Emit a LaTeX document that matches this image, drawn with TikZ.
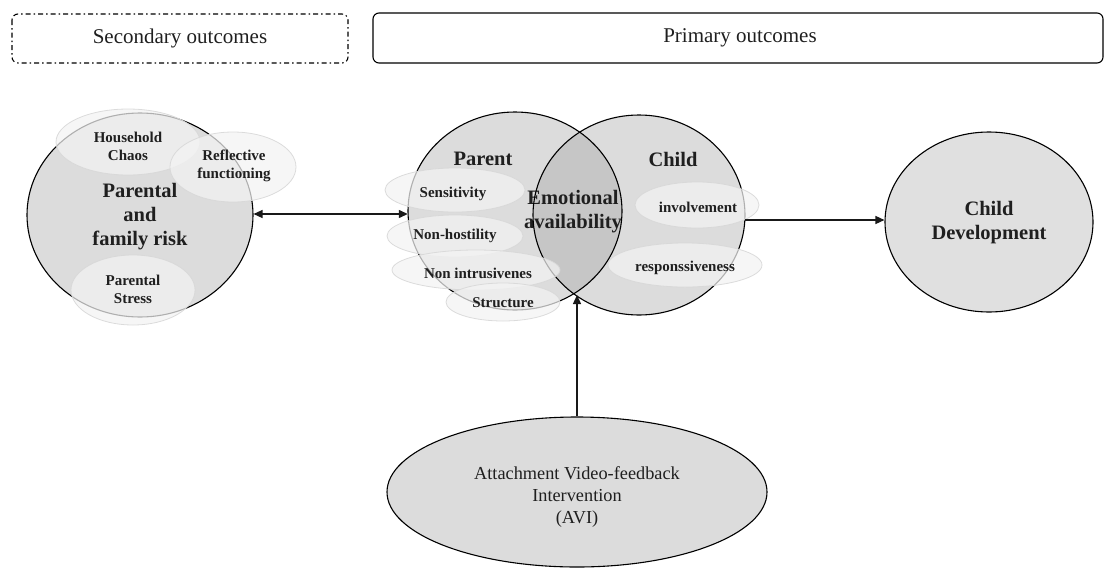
\documentclass[tikz,border=0pt]{standalone}
\usepackage{fontspec}
\setmainfont{Liberation Serif}
\usetikzlibrary{shapes.geometric,arrows.meta}
\definecolor{circfill}{HTML}{DCDCDC}
\definecolor{devfill}{HTML}{E0E0E0}
\definecolor{interfill}{HTML}{C6C6C6}
\definecolor{subfill}{HTML}{F3F3F3}
\definecolor{subline}{HTML}{D8D8D8}
\tikzset{
  hdrbox/.style={draw, line width=1.1pt, rounded corners=6pt},
  bigcirc/.style={ellipse, draw, line width=1.1pt, fill=circfill, inner sep=0pt},
  subell/.style={ellipse, draw=subline, line width=0.8pt, fill=subfill, fill opacity=0.72, draw opacity=0.9, inner sep=0pt},
  bigtxt/.style={font=\fontsize{20.5}{24}\selectfont\bfseries, align=center, text=black!88},
  smalltxt/.style={font=\fontsize{15}{18}\selectfont\bfseries, align=center, text=black!88},
  hdrtxt/.style={font=\fontsize{21}{25}\selectfont, text=black!88},
  conn/.style={line width=1.3pt, black!90},
  tip/.style={-{Triangle[length=9pt,width=8pt]}},
}
\begin{document}
\begin{tikzpicture}[x=1pt,y=-1pt]
\useasboundingbox (0,0) rectangle (1105,568);
% header boxes
\draw[hdrbox, dash pattern=on 5pt off 3pt on 1.5pt off 3pt] (12,14) rectangle (348,63);
\node[hdrtxt] (sec) at (180,38) {Secondary outcomes};
\draw[hdrbox] (373,13) rectangle (1103,63);
\node[hdrtxt] (prim) at (740,38) {Primary outcomes};

% Parental and family risk
\node[bigcirc, minimum width=226pt, minimum height=204pt] (risk) at (140,215) {};
\node[bigtxt] (risktxt) at (140,217) {Parental\\and\\family risk};
\node[subell, minimum width=144pt, minimum height=66pt] (hc) at (128,142) {};
\node[smalltxt] (hct) at (128,146) {Household\\Chaos};
\node[subell, minimum width=126pt, minimum height=70pt] (rf) at (233,167) {};
\node[smalltxt] (rft) at (234,166) {Reflective\\functioning};
\node[subell, minimum width=124pt, minimum height=70pt] (ps) at (133,290) {};
\node[smalltxt] (pst) at (133,289) {Parental\\Stress};

% Parent / Child Venn
\node[ellipse, fill=circfill, minimum width=214pt, minimum height=198pt, inner sep=0pt] (parent) at (515,211) {};
\node[ellipse, fill=circfill, minimum width=212pt, minimum height=200pt, inner sep=0pt] (child) at (639,215) {};
\begin{scope}
  \clip (515,211) ellipse [x radius=107pt, y radius=99pt];
  \fill[interfill] (639,215) ellipse [x radius=106pt, y radius=100pt];
\end{scope}
\node[bigtxt] (emo) at (573,212) {Emotional\\availability};
\draw[line width=1.1pt] (515,211) ellipse [x radius=107pt, y radius=99pt];
\draw[line width=1.1pt] (639,215) ellipse [x radius=106pt, y radius=100pt];
\node[bigtxt] (parenttxt) at (483,159) {Parent};
\node[bigtxt] (childtxt) at (673,159) {Child};

\node[subell, minimum width=140pt, minimum height=44pt] (sen) at (455,190) {};
\node[smalltxt] (sent) at (453,194) {Sensitivity};
\node[subell, minimum width=136pt, minimum height=42pt] (nh) at (455,236) {};
\node[smalltxt] (nht) at (455,236) {Non-hostility};
\node[subell, minimum width=168pt, minimum height=40pt] (ni) at (476,270) {};
\node[smalltxt] (nit) at (478,273) {Non intrusivenes};
\node[subell, minimum width=114pt, minimum height=38pt] (st) at (503,302) {};
\node[smalltxt] (stt) at (503,303) {Structure};
\node[subell, minimum width=124pt, minimum height=46pt] (inv) at (697,205) {};
\node[smalltxt] (invt) at (698,207) {involvement};
\node[subell, minimum width=154pt, minimum height=44pt] (resp) at (685,265) {};
\node[smalltxt] (respt) at (685,268) {responssiveness};

% Child Development
\node[ellipse, draw, line width=1.1pt, fill=devfill, minimum width=208pt, minimum height=180pt, inner sep=0pt] (dev) at (989,222) {};
\node[bigtxt] (devt) at (989,223) {Child\\Development};

% AVI
\node[bigcirc, minimum width=380pt, minimum height=150pt] (avi) at (577,492) {};
\node[font=\fontsize{18.3}{22}\selectfont, align=center, text=black!88] (avit) at (577,497) {Attachment Video-feedback\\Intervention\\(AVI)};

% connectors
\coordinate (vennbot) at (577,295);
\coordinate (childE) at (745,220);
\draw[conn, {Triangle[length=9pt,width=8pt]}-{Triangle[length=9pt,width=8pt]}] (risk.east |- 0,214) -- (parent.west |- 0,214);
\draw[conn, tip] (childE) -- (dev.west |- childE);
\draw[conn, tip] (avi.north) -- (vennbot);
\end{tikzpicture}
\end{document}
